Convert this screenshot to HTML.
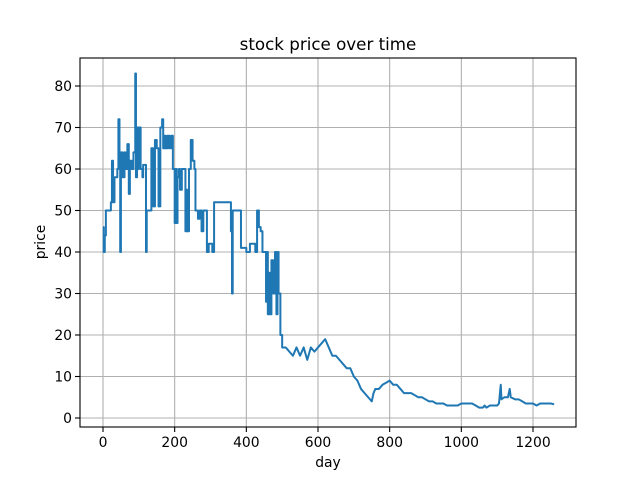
<!DOCTYPE html>
<html><head><meta charset="utf-8"><style>
body{margin:0;background:#fff;font-family:"Liberation Sans","DejaVu Sans",sans-serif}
svg text{font-family:"DejaVu Sans","Liberation Sans",sans-serif;fill:#000}
</style></head><body>
<svg id="chart" width="640" height="480" viewBox="0 0 640 480" xmlns="http://www.w3.org/2000/svg">
<rect width="640" height="480" fill="#fff"/>
<g id="grid"></g>
<g id="ticks"></g>
<path id="line" fill="none" stroke="#1f77b4" stroke-width="2" stroke-linejoin="round"/>
<rect x="80" y="58" width="496" height="369" fill="none" stroke="#000" stroke-width="1.1"/>
<text x="328" y="50" font-size="16.7" text-anchor="middle">stock price over time</text>
<text x="328" y="467" font-size="13.9" text-anchor="middle">day</text>
<text x="45" y="242" font-size="13.9" text-anchor="middle" transform="rotate(-90 45 242)">price</text>
</svg>
<script>
const days=[0,2,5,8,20,22,25,28,32,40,43,46,48,50,55,60,63,68,72,75,80,85,90,92,95,98,100,105,110,112,118,120,122,130,135,140,145,150,155,160,165,168,172,175,180,185,190,195,200,203,206,208,212,215,220,225,230,232,236,240,245,250,255,258,265,270,275,280,285,290,295,300,305,310,340,355,357,360,362,365,380,385,400,410,420,425,430,435,440,445,450,455,457,460,462,465,470,475,480,484,487,490,495,500,510,520,530,540,550,560,570,580,590,600,610,620,630,640,650,660,670,680,690,700,710,720,730,740,750,755,760,770,780,790,800,810,820,830,840,850,860,870,880,890,900,910,920,930,940,950,960,970,980,990,1000,1010,1020,1030,1040,1050,1060,1065,1070,1080,1090,1100,1105,1110,1112,1120,1130,1135,1138,1150,1160,1170,1180,1190,1200,1210,1220,1230,1240,1250,1259];
const prices=[46,40,44,50,50,52,62,52,58,60,72,60,40,64,58,64,60,66,54,62,60,64,83,58,70,60,70,60,58,61,61,40,50,50,65,51,67,65,51,70,72,65,68,65,68,65,68,60,47,60,47,58,60,55,60,60,45,55,45,60,67,62,60,50,48,50,45,50,50,40,42,42,40,52,52,52,45,30,50,50,50,41,40,42,42,40,50,46,45,40,40,28,40,25,35,25,38,30,40,25,40,30,20,17,17,16,15,17,15,17,14,17,16,17,18,19,17,15,15,14,13,12,12,10,9,7,6,5,4,6,7,7,8,8.5,9,8,8,7,6,6,6,5.5,5,5,4.5,4,4,3.5,3.5,3.5,3,3,3,3,3.5,3.5,3.5,3.5,3,2.5,2.5,3,2.5,3,3,3,3.5,8,4.5,5,5,7,5,4.5,4.5,4,3.5,3.5,3.5,3,3.5,3.5,3.5,3.5,3.3];
const xTicks=[0,200,400,600,800,1000,1200];
const yTicks=[0,10,20,30,40,50,60,70,80];
const X=d=>103+d*(430/1200);
const Y=p=>418-p*(332/80);
const ns="http://www.w3.org/2000/svg";
const grid=document.getElementById('grid'),ticks=document.getElementById('ticks');
function mk(tag,attrs,parent){const e=document.createElementNS(ns,tag);for(const k in attrs)e.setAttribute(k,attrs[k]);parent.appendChild(e);return e;}
xTicks.forEach(t=>{const x=X(t);
 const g=mk('line',{x1:x,x2:x,y1:58,y2:427,stroke:'#b0b0b0','stroke-width':1.1},grid);
 
 
 const tk=mk('line',{x1:x,x2:x,y1:427,y2:432,stroke:'#000','stroke-width':1.1},ticks);
 
 
 const tx=mk('text',{x:x,y:447,'font-size':13.9,'text-anchor':'middle'},ticks);tx.textContent=t;
 
 
});
yTicks.forEach(t=>{const y=Y(t);
 const g=mk('line',{x1:80,x2:576,y1:y,y2:y,stroke:'#b0b0b0','stroke-width':1.1},grid);
 
 
 const tk=mk('line',{x1:75,x2:80,y1:y,y2:y,stroke:'#000','stroke-width':1.1},ticks);
 
 
 const tx=mk('text',{x:72,y:y+5,'font-size':13.9,'text-anchor':'end'},ticks);tx.textContent=t;
 
 
});
let d='M'+X(days[0]).toFixed(2)+' '+Y(prices[0]).toFixed(2);
for(let i=1;i<days.length;i++){
 if(days[i]<=500){d+='L'+X(days[i]).toFixed(2)+' '+Y(prices[i-1]).toFixed(2);}
 d+='L'+X(days[i]).toFixed(2)+' '+Y(prices[i]).toFixed(2);
}
document.getElementById('line').setAttribute('d',d);
</script>
</body></html>
